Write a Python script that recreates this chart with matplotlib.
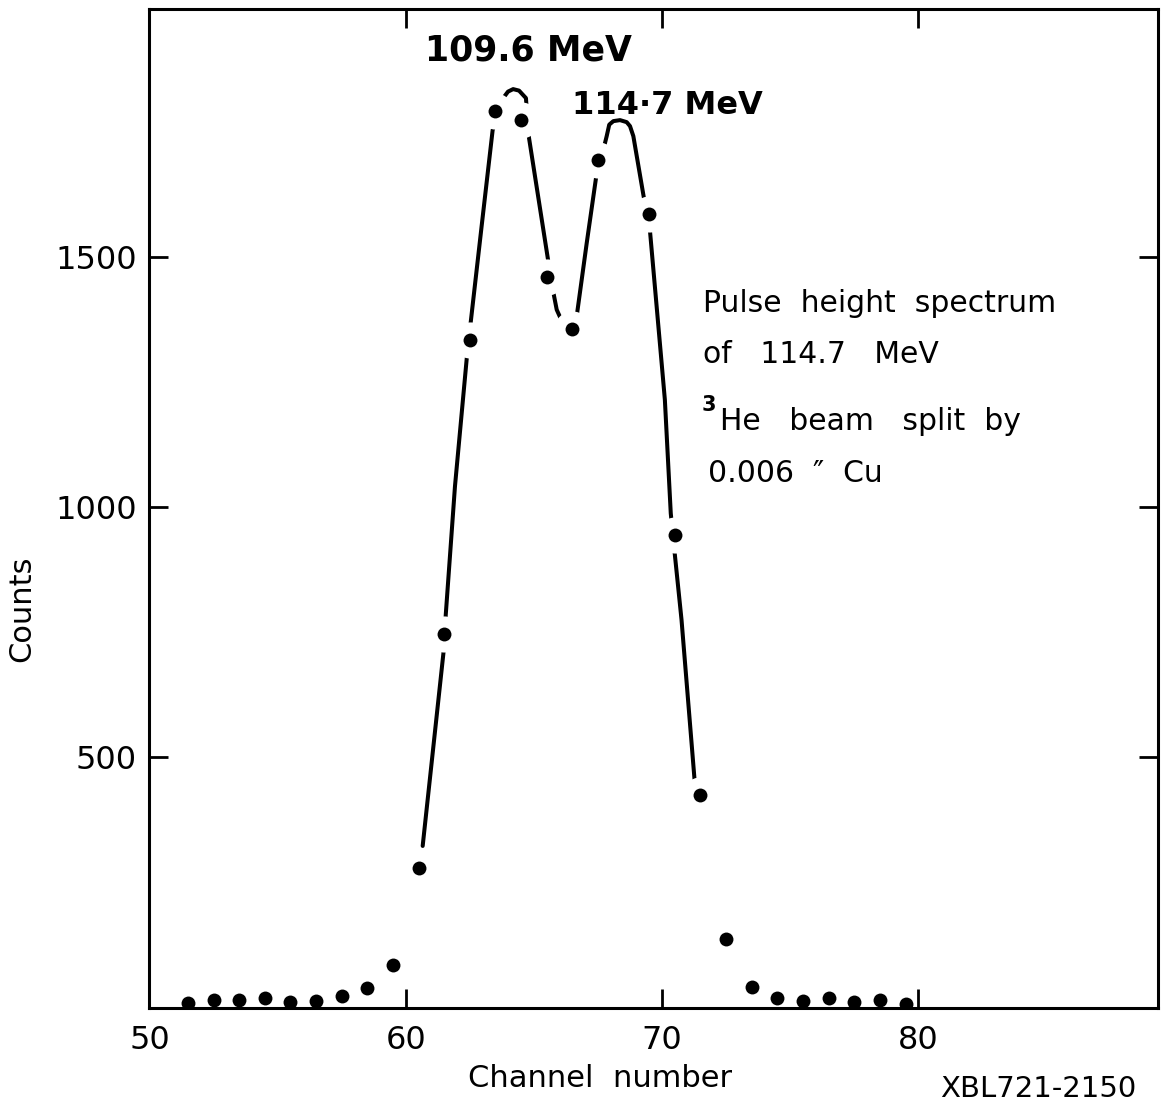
import matplotlib
matplotlib.use("Agg")
import matplotlib.pyplot as plt

# measured points (channel, counts)
channel = [51.5, 52.5, 53.5, 54.5, 55.5, 56.5, 57.5, 58.5, 59.5, 60.5,
           61.5, 62.5, 63.5, 64.5, 65.5, 66.5, 67.5, 69.5, 70.5, 71.5,
           72.5, 73.5, 74.5, 75.5, 76.5, 77.5, 78.5, 79.5]
counts = [9, 15, 15, 19, 11, 12, 22, 39, 84, 278,
          746, 1333, 1792, 1773, 1459, 1355, 1693, 1585, 943, 423,
          136, 40, 19, 13, 19, 10, 14, 6]

# hand-drawn guide curve
curve_x = [60.66, 61.50, 61.56, 61.92, 62.38, 62.53, 62.96, 63.39, 63.80, 63.99,
           64.19, 64.42, 64.69, 64.78, 65.56, 65.75, 65.89, 66.04, 66.21, 66.67,
           67.06, 67.45, 67.71, 67.84, 67.94, 68.10, 68.36, 68.62, 68.75, 68.88,
           69.27, 69.53, 70.11, 70.34, 70.50, 70.76, 71.28]
curve_y = [322, 722, 784, 1041, 1297, 1367, 1561, 1753, 1817, 1830,
           1835, 1832, 1817, 1747, 1491, 1431, 1394, 1377, 1367, 1381,
           1527, 1667, 1714, 1741, 1764, 1771, 1773, 1769, 1761, 1741,
           1624, 1551, 1214, 987, 904, 774, 447]

xticks = [50, 60, 70, 80]
yticks = [500, 1000, 1500]

plt.rcParams['font.family'] = ['DejaVu Sans']

fig = plt.figure(figsize=(11.66, 11.07), dpi=100)
ax = fig.add_axes([0.1282, 0.0894, 0.8649, 0.9024])

ax.plot(curve_x, curve_y, color='black', linewidth=2.9,
        solid_capstyle='round', zorder=2)

# white halo around dots that sit on the curve -> gaps in the line
on_curve = [(c, n) for c, n in zip(channel, counts) if 60 < c < 72]
ax.plot([c for c, _ in on_curve], [n for _, n in on_curve], 'o',
        color='white', markersize=26, markeredgewidth=0, zorder=3)
ax.plot(channel, counts, 'o', color='black', markersize=10,
        markeredgewidth=0, zorder=4)

ax.set_xlim(50, 89.35)
ax.set_ylim(-2, 1995)
ax.set_xticks(xticks)
ax.set_yticks(yticks)
ax.tick_params(direction='in', length=14, width=2, top=True, right=True,
               labelsize=23)
ax.tick_params(axis='x', pad=12)
ax.tick_params(axis='y', pad=9)
for s in ax.spines.values():
    s.set_linewidth(2.2)

ax.set_xlabel('Channel  number', fontsize=22)
ax.xaxis.set_label_coords(0.447, -0.056)
ax.set_ylabel('Counts', fontsize=22)
ax.yaxis.set_label_coords(-0.112, 0.40)

# peak labels
ax.text(60.75, 1892, '109.6 MeV', fontsize=25, fontweight='bold', va='baseline')
ax.text(66.48, 1786, '114·7 MeV', fontsize=23, fontweight='bold', va='baseline')

# description
ax.text(71.6, 1390, 'Pulse  height  spectrum', fontsize=21.5, va='baseline')
ax.text(71.6, 1288, 'of   114.7   MeV', fontsize=21.5, va='baseline')
ax.text(71.55, 1192, '3', fontsize=15, fontweight='bold', va='baseline')
ax.text(72.25, 1154, 'He   beam   split  by', fontsize=21.5, va='baseline')
ax.text(71.8, 1050, '0.006  \u2033  Cu', fontsize=21.5, va='baseline')

fig.text(0.806, 0.009, 'XBL721-2150', fontsize=21, va='baseline')

fig.savefig('out.png', dpi=100, facecolor='white')
